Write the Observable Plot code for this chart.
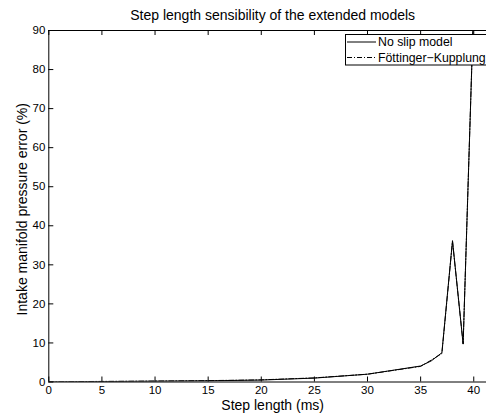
<!DOCTYPE html>
<html>
<head>
<meta charset="utf-8">
<script src="https://cdn.jsdelivr.net/npm/d3@7"></script>
<script src="https://cdn.jsdelivr.net/npm/@observablehq/plot@0.6"></script>
<style>
  html, body { margin: 0; padding: 0; background: #fff; }
</style>
</head>
<body>
<div id="chart"></div>
<script>
const stepLength = [0, 5, 10, 15, 20, 25, 30, 35, 36, 37, 38, 39, 40];
const noSlip     = [0, 0.1, 0.2, 0.3, 0.5, 1.0, 2.0, 4.1, 5.4, 7.5, 36.2, 9.7, 97];
const foettinger = [0.05, 0.15, 0.25, 0.35, 0.55, 1.05, 2.0, 4.0, 5.6, 7.3, 36.0, 9.8, 97];
const xTicks = [0, 5, 10, 15, 20, 25, 30, 35, 40];
const yTicks = [0, 10, 20, 30, 40, 50, 60, 70, 80, 90];
const seriesNames = ["No slip model", "Föttinger\u2212Kupplung"];

const rowsA = stepLength.map((x, i) => ({x, y: noSlip[i]}));
const rowsB = stepLength.map((x, i) => ({x, y: foettinger[i]}));

const W = 486, H = 417;
const mL = 48.3, mT = 30, mB = 35.5, mR = 0;
const xMax = 41.2, yMax = 90;
const tickLenX = 5 / ((H - mT - mB) / yMax); // 5px in y units
const tickLenY = 5 / ((W - mL - mR) / xMax); // 5px in x units
const font = "'Liberation Sans', Arial, Helvetica, sans-serif";

const chart = Plot.plot({
  width: W,
  height: H,
  marginLeft: mL,
  marginTop: mT,
  marginBottom: mB,
  marginRight: mR,
  style: {fontFamily: font, fontSize: "11.5px", background: "#fff", color: "#000"},
  x: {domain: [0, xMax], ticks: xTicks, tickSize: 0, tickPadding: 3.5, label: null},
  y: {domain: [0, yMax], ticks: yTicks, tickSize: 0, tickPadding: 3.5, label: null},
  marks: [
    // inward ticks bottom & top
    Plot.ruleX(xTicks, {y1: 0, y2: tickLenX, stroke: "#000", strokeWidth: 1}),
    Plot.ruleX(xTicks, {y1: yMax - tickLenX, y2: yMax, stroke: "#000", strokeWidth: 1}),
    Plot.ruleY(yTicks, {x1: 0, x2: tickLenY, stroke: "#000", strokeWidth: 1}),
    // data
    Plot.line(rowsB, {x: "x", y: "y", stroke: "#000", strokeWidth: 1, strokeDasharray: "5,2,1,2", clip: true}),
    Plot.line(rowsA, {x: "x", y: "y", stroke: "#000", strokeWidth: 1, clip: true}),
    // box lines
    Plot.ruleX([0], {stroke: "#000", strokeWidth: 1}),
    Plot.ruleY([0], {stroke: "#000", strokeWidth: 1}),
    Plot.ruleY([yMax], {stroke: "#000", strokeWidth: 1}),
    // titles
    Plot.text(["Step length sensibility of the extended models"], {frameAnchor: "top", lineAnchor: "bottom", dy: -10.5, dx: 5, fontSize: 14, fill: "#000"}),
    Plot.text(["Step length (ms)"], {frameAnchor: "bottom", lineAnchor: "bottom", dy: 27.5, dx: 5, fontSize: 14, fill: "#000"}),
    Plot.text(["Intake manifold pressure error (%)"], {frameAnchor: "left", textAnchor: "middle", lineAnchor: "bottom", dx: -22, dy: 3, rotate: -90, fontSize: 14, fill: "#000"})
  ]
});

document.getElementById("chart").appendChild(chart);

// legend
const svg = d3.select(chart);
const lg = svg.append("g").attr("font-family", font).attr("font-size", "12.3px").attr("text-anchor", "start");
lg.append("rect").attr("x", 345.5).attr("y", 34.5).attr("width", 160).attr("height", 30.5)
  .attr("fill", "#fff").attr("stroke", "#000").attr("stroke-width", 1);
const dashes = [null, "5,2,1,2"];
seriesNames.forEach((name, i) => {
  const yy = 42 + i * 15.5;
  lg.append("line").attr("x1", 347).attr("x2", 376).attr("y1", yy).attr("y2", yy)
    .attr("stroke", "#000").attr("stroke-width", 1).attr("stroke-dasharray", dashes[i]);
  lg.append("text").attr("x", 378).attr("y", yy).attr("dy", "0.35em").attr("fill", "#000")
    .attr("text-anchor", "start").text(name);
});
</script>
</body>
</html>
